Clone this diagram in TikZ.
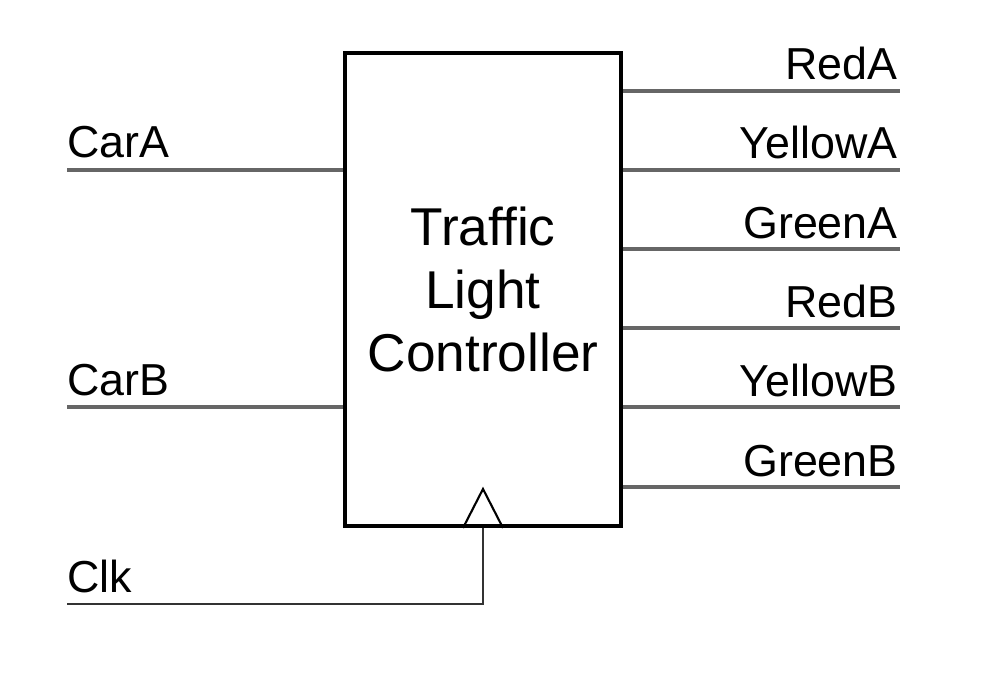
\documentclass[tikz,border=0pt]{standalone}
\usepackage{fontspec}
\setmainfont{Liberation Sans}
\usetikzlibrary{calc}

\begin{document}
\begin{tikzpicture}[
            x=0.02cm, y=-0.02cm,
            block/.style={draw, line width=2.3pt, minimum width=5.52cm, minimum height=9.46cm,
                align=center, font=\fontsize{30.3}{35.8}\selectfont},
            wire/.style={draw=black!60, line width=2.6pt},
            clkwire/.style={draw=black!80, line width=1.1pt},
            pinlabel/.style={inner sep=0pt, font=\fontsize{25.5}{28}\selectfont}]

            \useasboundingbox (0,0) rectangle (1000,689);

            \node[block] (tlc) at (483,289.5) {Traffic\\Light\\Controller};

            % inputs
            \foreach \name/\y in {CarA/170, CarB/407}{
                \coordinate (\name) at (67,\y);
                \draw[wire] (\name) -- (\name -| tlc.west);
                \node[pinlabel, anchor=base west] (\name-lbl) at (67,\y-12) {\name};
            }

            % outputs
            \foreach \name/\y in {RedA/91, YellowA/170, GreenA/249, RedB/328, YellowB/407, GreenB/487}{
                \coordinate (\name) at (900,\y);
                \draw[wire] (tlc.east |- \name) -- (\name);
                \node[pinlabel, anchor=base east] (\name-lbl) at (898,\y-11) {\name};
            }

            % clock
            \coordinate (clk) at (67,604);
            \node[pinlabel, anchor=base west] (clk-lbl) at (67,592) {Clk};
            \draw[clkwire] (clk) -| (tlc.south);
            \draw[line width=1.2pt, line join=miter] ($(tlc.south)+(-20,0)$) -- ($(tlc.south)+(0,-39)$) -- ($(tlc.south)+(20,0)$);
        \end{tikzpicture}
\end{document}
